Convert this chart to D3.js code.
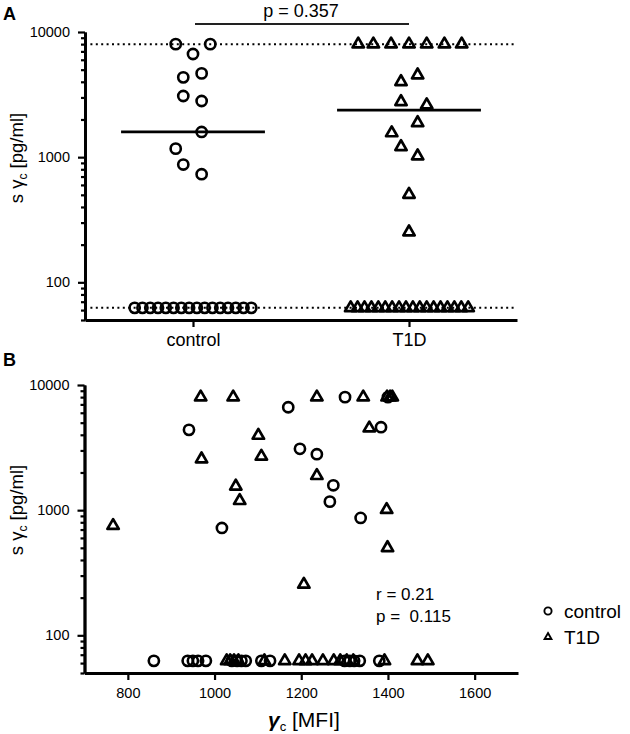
<!DOCTYPE html>
<html><head><meta charset="utf-8">
<script src="https://cdn.jsdelivr.net/npm/d3@7"></script>
<style>
html,body{margin:0;padding:0;background:#fff;}
svg{display:block;font-family:"Liberation Sans",Arial,Helvetica,sans-serif;}
</style></head><body>
<svg id="chart" width="630" height="734"></svg>
<script>
// ---------- DATA ----------
const categories = ["control", "T1D"];
const majorYTicks = [100, 1000, 10000];
const xTicksB = [800, 1000, 1200, 1400, 1600];
const upperLimit = 8000;
const lowerLimit = 62.5;

// Panel A: control group (value, horizontal jitter in category units)
const controlAValues = [8000, 8000, 6670, 4340, 4670, 3080, 2810, 1590, 1170, 873, 731,
  62.5, 62.5, 62.5, 62.5, 62.5, 62.5, 62.5, 62.5, 62.5, 62.5, 62.5, 62.5, 62.5, 62.5, 62.5, 62.5];
const controlAJitter = [-0.08, 0.08, 0, -0.045, 0.04, -0.045, 0.04, 0.04, -0.08, -0.045, 0.04,
  -0.27, -0.234, -0.198, -0.162, -0.126, -0.09, -0.054, -0.018, 0.018, 0.054, 0.09, 0.126, 0.162, 0.198, 0.234, 0.27];
// Panel A: T1D group
const t1dAValues = [8000, 8000, 8000, 8000, 8000, 8000, 8000,
  4530, 4000, 2770, 2610, 1880, 1560, 1210, 1020, 503, 252,
  62.5, 62.5, 62.5, 62.5, 62.5, 62.5, 62.5, 62.5, 62.5, 62.5, 62.5, 62.5, 62.5, 62.5, 62.5, 62.5, 62.5, 62.5];
const t1dAJitter = [-0.235, -0.165, -0.083, 0, 0.082, 0.164, 0.244,
  0.04, -0.037, -0.037, 0.082, 0.04, -0.08, -0.037, 0.04, 0, 0,
  -0.27, -0.238, -0.206, -0.174, -0.142, -0.11, -0.078, -0.046, -0.014, 0.018, 0.05, 0.082, 0.114, 0.146, 0.178, 0.21, 0.242, 0.274];
const medians = [1590, 2380];
const pValueA = "p = 0.357";

// Panel B: control
const controlBX = [1170, 1301, 1400, 941, 1384, 1197, 1236, 1274, 1266, 1337, 1017,
  860, 938, 950, 962, 980, 1040, 1052, 1062, 1072, 1108, 1128, 1300, 1312, 1322, 1335, 1380];
const controlBY = [6640, 8000, 8000, 4380, 4600, 3090, 2800, 1580, 1170, 867, 721,
  62.5, 62.5, 62.5, 62.5, 62.5, 62.5, 62.5, 62.5, 62.5, 62.5, 62.5, 62.5, 62.5, 62.5, 62.5, 62.5];
// Panel B: T1D
const t1dBX = [968, 1043, 1236, 1343, 1398, 1405, 1410, 1357, 1101, 1108, 970, 1236, 1049, 1058, 1397, 766, 1399, 1206,
  1028, 1036, 1045, 1055, 1115, 1162, 1195, 1210, 1225, 1250, 1275, 1290, 1305, 1320, 1392, 1468, 1492];
const t1dBY = [8000, 8000, 8000, 8000, 8000, 8000, 8000, 4520, 3950, 2690, 2560, 1885, 1550, 1190, 1009, 752, 500, 255,
  62.5, 62.5, 62.5, 62.5, 62.5, 62.5, 62.5, 62.5, 62.5, 62.5, 62.5, 62.5, 62.5, 62.5, 62.5, 62.5, 62.5];
const statsB = ["r = 0.21", "p =  0.115"];
const legendLabels = ["control", "T1D"];

// ---------- DRAW ----------
const svg = d3.select("#chart");
const triPath = d3.symbol().type(d3.symbolTriangle).size(56)();
const triSmall = d3.symbol().type(d3.symbolTriangle).size(20)();

function logYAxis(g, y, x0) {
  const all = y.ticks();
  const minor = all.filter(v => !majorYTicks.includes(v));
  const gm = g.append("g").attr("transform", `translate(${x0},0)`)
    .call(d3.axisLeft(y).tickValues(minor).tickSize(4).tickSizeOuter(0).tickFormat(""));
  const gM = g.append("g").attr("transform", `translate(${x0},0)`)
    .call(d3.axisLeft(y).tickValues(majorYTicks).tickSize(7).tickSizeOuter(0).tickPadding(8).tickFormat(d3.format("d")));
  [gm, gM].forEach(a => {
    a.select(".domain").attr("stroke", "#000").attr("stroke-width", 2.8);
    a.selectAll(".tick line").attr("stroke", "#000").attr("stroke-width", 2.2);
    a.selectAll("text").attr("font-size", 14.5).attr("fill", "#000").attr("font-family", null);
  });
}

function yLabel(cx, cy) {
  const t = svg.append("text").attr("transform", `translate(${cx},${cy}) rotate(-90)`)
    .attr("text-anchor", "middle").attr("font-size", 18.5).attr("fill", "#000");
  t.append("tspan").text("s γ");
  t.append("tspan").attr("font-size", 12).attr("dy", 4).text("c");
  t.append("tspan").attr("dy", -4).text(" [pg/ml]");
}

// ===== Panel A =====
const yA = d3.scaleLog().domain([50, 10000]).range([320, 32]);
const xA = d3.scaleLinear().domain([-0.5, 1.5]).range([85, 517]);
const gA = svg.append("g");

// limit lines
[upperLimit, lowerLimit].forEach(v => {
  gA.append("line").attr("x1", xA(-0.5)).attr("x2", xA(1.5)).attr("y1", yA(v)).attr("y2", yA(v))
    .attr("stroke", "#000").attr("stroke-width", 2).attr("stroke-dasharray", "2,3.4");
});

// axes
logYAxis(gA, yA, xA(-0.5));
const xAxA = gA.append("g").attr("transform", `translate(0,${yA(50)})`)
  .call(d3.axisBottom(xA).tickValues([0, 1]).tickFormat(i => categories[i]).tickSize(7).tickSizeOuter(0).tickPadding(6));
xAxA.select(".domain").attr("stroke", "#000").attr("stroke-width", 2.8);
xAxA.selectAll(".tick line").attr("stroke", "#000").attr("stroke-width", 2.2);
xAxA.selectAll("text").attr("font-size", 18).attr("fill", "#000").attr("font-family", null);

// points
gA.selectAll("circle.ctl").data(controlAValues).join("circle").attr("class", "ctl")
  .attr("cx", (d, i) => xA(0 + controlAJitter[i])).attr("cy", d => yA(d)).attr("r", 5.1)
  .attr("fill", "none").attr("stroke", "#000").attr("stroke-width", 2.6);
gA.selectAll("path.t1d").data(t1dAValues).join("path").attr("class", "t1d")
  .attr("d", triPath)
  .attr("transform", (d, i) => `translate(${xA(1 + t1dAJitter[i])},${yA(d)})`)
  .attr("fill", "none").attr("stroke", "#000").attr("stroke-width", 2.7).attr("stroke-linejoin", "round");

// medians
medians.forEach((m, i) => {
  gA.append("line").attr("x1", xA(i - 0.333)).attr("x2", xA(i + 0.333)).attr("y1", yA(m)).attr("y2", yA(m))
    .attr("stroke", "#000").attr("stroke-width", 2.8);
});

// p-value bracket
gA.append("line").attr("x1", xA(0) + 2).attr("x2", xA(1)).attr("y1", 24).attr("y2", 24)
  .attr("stroke", "#222").attr("stroke-width", 2.2);
gA.append("text").attr("x", (xA(0) + xA(1)) / 2).attr("y", 17).attr("text-anchor", "middle")
  .attr("font-size", 18).attr("fill", "#000").text(pValueA);

yLabel(23, 158);
svg.append("text").attr("x", 3).attr("y", 20).attr("font-size", 18).attr("font-weight", "bold").text("A");

// ===== Panel B =====
const yB = d3.scaleLog().domain([50, 10000]).range([673, 385]);
const xB = d3.scaleLinear().domain([700, 1700]).range([84.5, 518]);
const gB = svg.append("g");

logYAxis(gB, yB, xB(700));
const xAxB = gB.append("g").attr("transform", `translate(0,${yB(50)})`)
  .call(d3.axisBottom(xB).tickValues(xTicksB).tickSize(7).tickSizeOuter(0).tickPadding(8).tickFormat(d3.format("d")));
xAxB.select(".domain").attr("stroke", "#000").attr("stroke-width", 2.8);
xAxB.selectAll(".tick line").attr("stroke", "#000").attr("stroke-width", 2.2);
xAxB.selectAll("text").attr("font-size", 14.5).attr("fill", "#000").attr("font-family", null);

gB.selectAll("circle.ctl").data(controlBX).join("circle").attr("class", "ctl")
  .attr("cx", d => xB(d)).attr("cy", (d, i) => yB(controlBY[i])).attr("r", 5.1)
  .attr("fill", "none").attr("stroke", "#000").attr("stroke-width", 2.6);
gB.selectAll("path.t1d").data(t1dBX).join("path").attr("class", "t1d")
  .attr("d", triPath)
  .attr("transform", (d, i) => `translate(${xB(d)},${yB(t1dBY[i])})`)
  .attr("fill", "none").attr("stroke", "#000").attr("stroke-width", 2.7).attr("stroke-linejoin", "round");

// stats text
statsB.forEach((s, i) => {
  gB.append("text").attr("x", 376).attr("y", 600 + i * 22).attr("font-size", 17).attr("fill", "#000")
    .attr("xml:space", "preserve").style("white-space", "pre").text(s);
});

// x label
const xl = svg.append("text").attr("x", 268).attr("y", 727).attr("font-size", 21).attr("fill", "#000");
xl.append("tspan").attr("font-weight", "bold").attr("font-style", "italic").text("γ");
xl.append("tspan").attr("font-size", 13).attr("dy", 4).text("c");
xl.append("tspan").attr("dy", -4).text(" [MFI]");

yLabel(23, 510);
svg.append("text").attr("x", 3).attr("y", 366).attr("font-size", 18).attr("font-weight", "bold").text("B");

// legend
const lg = svg.append("g");
legendLabels.forEach((lab, i) => {
  const cy = 611 + i * 26;
  if (i === 0) {
    lg.append("circle").attr("cx", 548).attr("cy", cy).attr("r", 3.6)
      .attr("fill", "none").attr("stroke", "#000").attr("stroke-width", 1.9);
  } else {
    lg.append("path").attr("d", triSmall).attr("transform", `translate(548,${cy})`)
      .attr("fill", "none").attr("stroke", "#000").attr("stroke-width", 1.9);
  }
  lg.append("text").attr("x", 564).attr("y", cy + 6.5).attr("font-size", 19).attr("fill", "#000").text(lab);
});
</script>
</body></html>
